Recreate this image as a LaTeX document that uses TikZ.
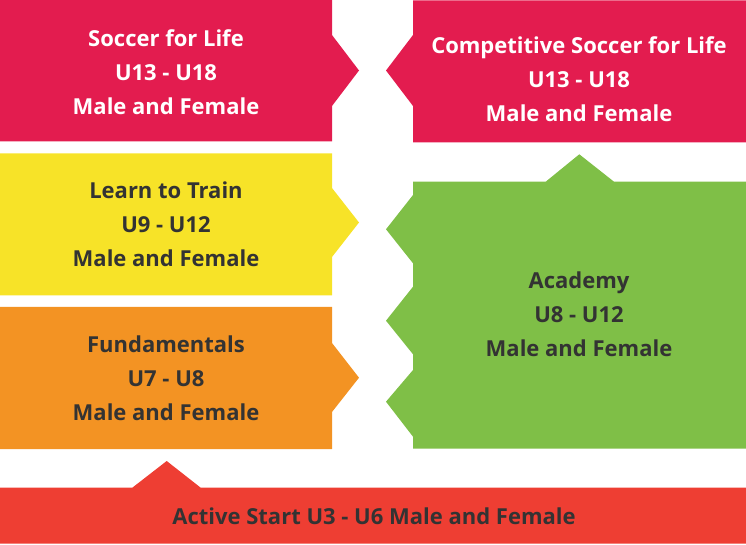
\documentclass[tikz,border=0pt]{standalone}
\usepackage{fontspec}
\setmainfont{Open Sans}
\usepackage{tikz}
\usetikzlibrary{calc}

\definecolor{crimson}{HTML}{E31C4F}
\definecolor{sunny}{HTML}{F7E328}
\definecolor{tangerine}{HTML}{F39323}
\definecolor{grass}{HTML}{7FBF47}
\definecolor{brick}{HTML}{EE3E33}
\definecolor{ink}{HTML}{333333}

\begin{document}
\begin{tikzpicture}[x=0.75pt, y=-0.75pt,
    label/.style={align=center, font=\fontsize{16.5}{25.5}\selectfont\bfseries, text=ink, inner sep=0pt},
    whitelabel/.style={label, text=white}]
    %% define points
    \def\L{332};
    \def\R{413};
    \def\Tl{359};
    \def\Tr{386};

    %% canvas
    \useasboundingbox (0,0) rectangle (746,545);

    %% left column
    \fill[crimson] (0,0) -- (\L,0) -- (\L,35) -- (\Tl,70.5) -- (\L,106) -- (\L,141.5) -- (0,141.5) -- cycle;
    \fill[sunny] (0,153.5) -- (\L,153.5) -- (\L,188) -- (\Tl,222.5) -- (\L,257) -- (\L,295.5) -- (0,295.5) -- cycle;
    \fill[tangerine] (0,307) -- (\L,307) -- (\L,343) -- (\Tl,377.7) -- (\L,412) -- (\L,449) -- (0,449) -- cycle;

    %% right column
    \fill[crimson] (\R,0.5) -- (746,0.5) -- (746,142.5) -- (\R,142.5) -- (\R,106) -- (\Tr,70.5) -- (\R,35) -- cycle;
    \fill[grass] (\R,181.7) -- (545.7,181.7) -- (579.3,154.3) -- (614,181.7) -- (746,181.7) -- (746,448.5)
        -- (\R,448.5) -- (\R,436.7) -- (\Tr,401.7) -- (\R,370) -- (\R,354.3) -- (\Tr,320.7) -- (\R,286.7)
        -- (\R,263.3) -- (\Tr,229.3) -- (\R,195) -- cycle;

    %% bottom bar
    \fill[brick] (0,487.7) -- (132.3,487.7) -- (166.7,461) -- (200.7,487.7) -- (746,487.7) -- (746,543.5) -- (0,543.5) -- cycle;

    %% text
    \node[whitelabel] (life) at (166,72) {Soccer for Life\\U13 - U18\\Male and Female};
    \node[whitelabel] (comp) at (579,79) {Competitive Soccer for Life\\U13 - U18\\Male and Female};
    \node[label] (train) at (166,224) {Learn to Train\\U9 - U12\\Male and Female};
    \node[label] (fund) at (166,378) {Fundamentals\\U7 - U8\\Male and Female};
    \node[label] (acad) at (579,314) {Academy\\U8 - U12\\Male and Female};
    \node[label] (active) at (374,516) {Active Start U3 - U6 Male and Female};
\end{tikzpicture}
\end{document}
